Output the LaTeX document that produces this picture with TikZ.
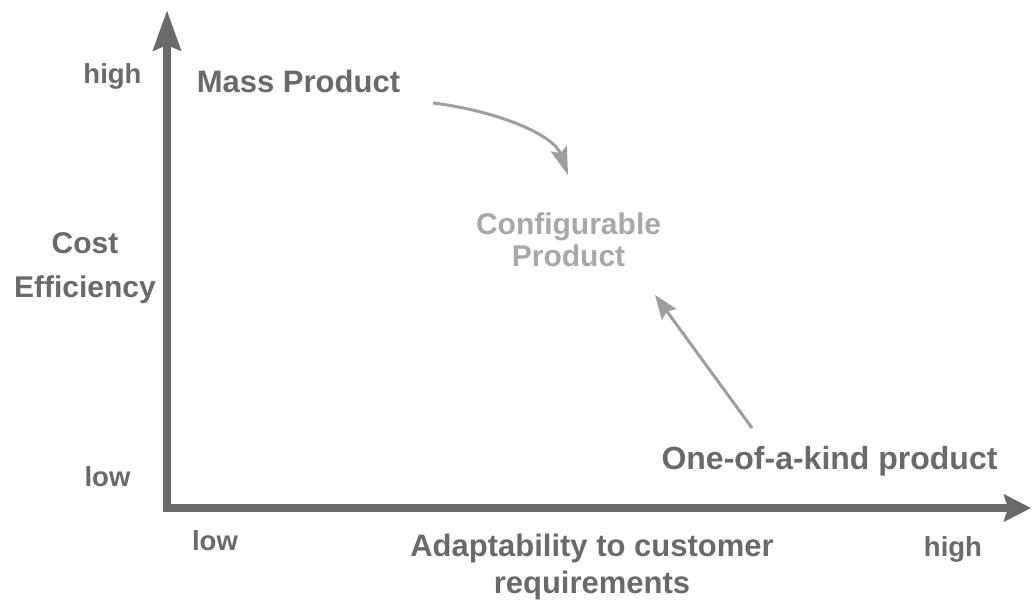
\documentclass[tikz,border=0pt]{standalone}
\usepackage{fontspec}
\setmainfont{Liberation Sans}
\usetikzlibrary{arrows.meta}
\definecolor{ink}{HTML}{6A6A6A}
\definecolor{soft}{HTML}{A8A8A8}
\definecolor{arrowgrey}{HTML}{9E9E9E}
\begin{document}
\begin{tikzpicture}[x=1pt,y=-1pt,
  lbl/.style={inner sep=0pt, text=ink, font=\bfseries\fontsize{31}{37}\selectfont},
  tick/.style={inner sep=0pt, text=ink, font=\bfseries\fontsize{27.5}{30}\selectfont},
  config/.style={inner sep=0pt, text=soft, align=center, font=\bfseries\fontsize{30}{32}\selectfont},
  axis/.style={draw=ink, line width=8.5pt, line join=miter},
  flow/.style={draw=arrowgrey, line width=3pt, -{Stealth[length=28pt,width=17pt,inset=5pt]}}]
\useasboundingbox[fill=white] (0,0) rectangle (1032,608);

% axes
\coordinate (origin) at (167,508);
\coordinate (ytip) at (167,10);
\coordinate (xtip) at (1031,508);
\draw[axis, {Stealth[length=40pt,width=27pt,inset=5pt]}-{Stealth[length=27pt,width=27pt,inset=4pt]}]
  (ytip) -- (origin) -- (xtip);

% scale labels
\node[tick, anchor=base] (yhigh) at (112.5,83.3) {high};
\node[tick, anchor=base] (ylow) at (107.5,486.7) {low};
\node[tick, anchor=base] (xlow) at (215,550) {low};
\node[tick, anchor=base] (xhigh) at (953,556.7) {high};

% axis titles (base anchor = baseline of the last line)
\node[lbl, align=center, anchor=base, font=\bfseries\fontsize{30}{44}\selectfont] (ytitle) at (85,297) {Cost\\Efficiency};
\node[lbl, align=center, anchor=base] (xtitle) at (592,593.3) {Adaptability to customer\\requirements};

% product types
\node[lbl, anchor=base] (mass) at (298.5,92) {Mass Product};
\node[config, anchor=base] (conf) at (568.5,266.7) {Configurable\\Product};
\node[lbl, anchor=base, font=\bfseries\fontsize{32}{37}\selectfont] (onekind) at (829.5,469) {One-of-a-kind product};

% movements towards the configurable product
\coordinate (massout) at (433,103);
\coordinate (confin) at (568,175);
\coordinate (onekindout) at (752,428);
\coordinate (confright) at (655,295);
\draw[flow] (massout) .. controls (498,111) and (554,135) .. (confin);
\draw[flow, -{Stealth[length=24pt,width=18pt,inset=4pt]}] (onekindout) -- (confright);
\end{tikzpicture}
\end{document}
